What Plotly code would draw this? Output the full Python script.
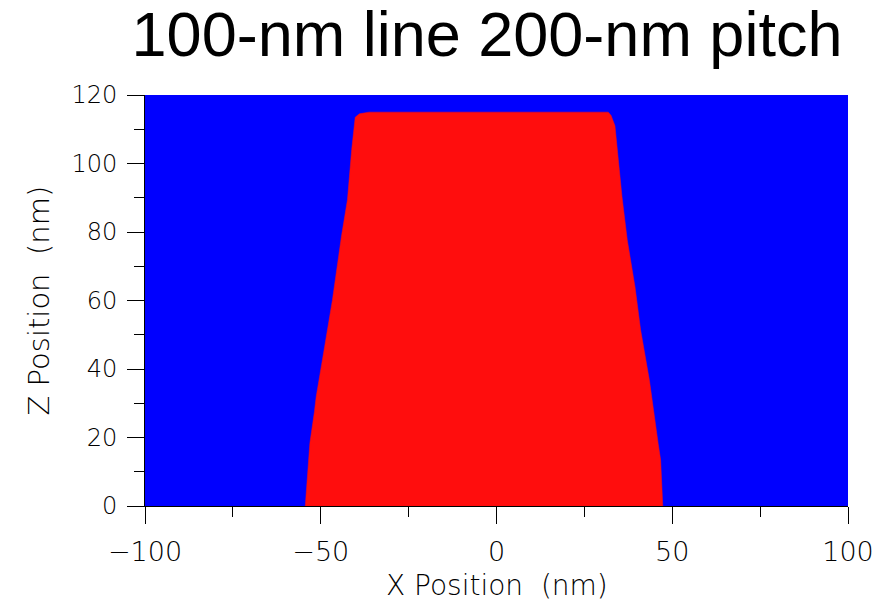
import plotly.graph_objects as go

# Resist profile (nm)
left_x = [-54.4, -53.8, -53.1, -51.8, -51.3, -48.9, -48.3, -46.7, -44.1, -42.4, -41.2, -40.6, -40.2, -39.0, -36.3]
left_z = [0.0, 9.5, 18.3, 27.5, 31.9, 46.5, 50.4, 60.0, 78.8, 89.4, 104.0, 111.0, 113.5, 114.5, 115.0]
right_x = [31.8, 32.6, 33.7, 35.7, 37.2, 39.4, 41.0, 43.5, 46.0, 46.7, 47.3]
right_z = [115.0, 114.0, 111.0, 90.3, 77.7, 64.0, 51.4, 36.7, 18.2, 13.4, 0.0]

x_range = [-100, 100]
z_range = [0, 120]
title_text = "100-nm line 200-nm pitch"
x_title = "X Position  (nm)"
z_title = "Z Position  (nm)"

poly_x = left_x + right_x + [left_x[0]]
poly_z = left_z + right_z + [left_z[0]]

fig = go.Figure()
# blue background region
fig.add_trace(go.Scatter(
    x=[x_range[0], x_range[1], x_range[1], x_range[0], x_range[0]],
    y=[z_range[0], z_range[0], z_range[1], z_range[1], z_range[0]],
    fill="toself", fillcolor="#0000ff", mode="lines", line=dict(width=0),
    hoverinfo="skip", showlegend=False))
fig.add_trace(go.Scatter(
    x=poly_x, y=poly_z, fill="toself", fillcolor="#ff0d0d", mode="lines",
    line=dict(width=0.5, color="#ff0d0d"), showlegend=False))

tickfont_y = dict(family="DejaVu Sans", size=24, color="black", weight=200)
tickfont_x = dict(family="DejaVu Sans", size=27, color="black", weight=200)

fig.update_layout(
    width=888, height=604,
    margin=dict(l=145, r=40, t=95, b=98),
    paper_bgcolor="white", plot_bgcolor="white",
    title=dict(text=title_text, font=dict(family="Liberation Sans, Arial", size=63, color="black"),
               x=487/888, xanchor="center", xref="container",
               y=1-12/604, yanchor="top", yref="container"),
    xaxis=dict(range=x_range, tickmode="array", tickvals=[-100, -50, 0, 50, 100],
               ticktext=["\u2212100", "\u221250", "0", "50", "100"],
               ticks="outside", ticklen=17, tickwidth=1, tickcolor="black",
               minor=dict(tickvals=[-75, -25, 25, 75], ticks="outside", ticklen=10, tickwidth=1, tickcolor="black"),
               showline=True, linecolor="black", linewidth=1, showgrid=False, zeroline=False,
               tickfont=tickfont_x, ticklabelstandoff=5),
    yaxis=dict(range=z_range, tickmode="array", tickvals=[0, 20, 40, 60, 80, 100, 120],
               ticks="outside", ticklen=17, tickwidth=1, tickcolor="black",
               minor=dict(tickvals=[10, 30, 50, 70, 90, 110], ticks="outside", ticklen=10, tickwidth=1, tickcolor="black"),
               showline=True, linecolor="black", linewidth=1, showgrid=False, zeroline=False,
               tickfont=tickfont_y, ticklabelstandoff=5),
    annotations=[
        dict(text=x_title, xref="paper", yref="paper", x=0.5, y=-(585-506)/411, xanchor="center", yanchor="middle",
             showarrow=False, font=dict(family="DejaVu Sans", size=28, color="black", weight=200)),
        dict(text=z_title, xref="paper", yref="paper", x=-(145-38)/703, y=0.5, xanchor="center", yanchor="middle",
             textangle=-90, showarrow=False, font=dict(family="DejaVu Sans", size=29, color="black", weight=200)),
    ],
)

fig.write_html("out.html")
